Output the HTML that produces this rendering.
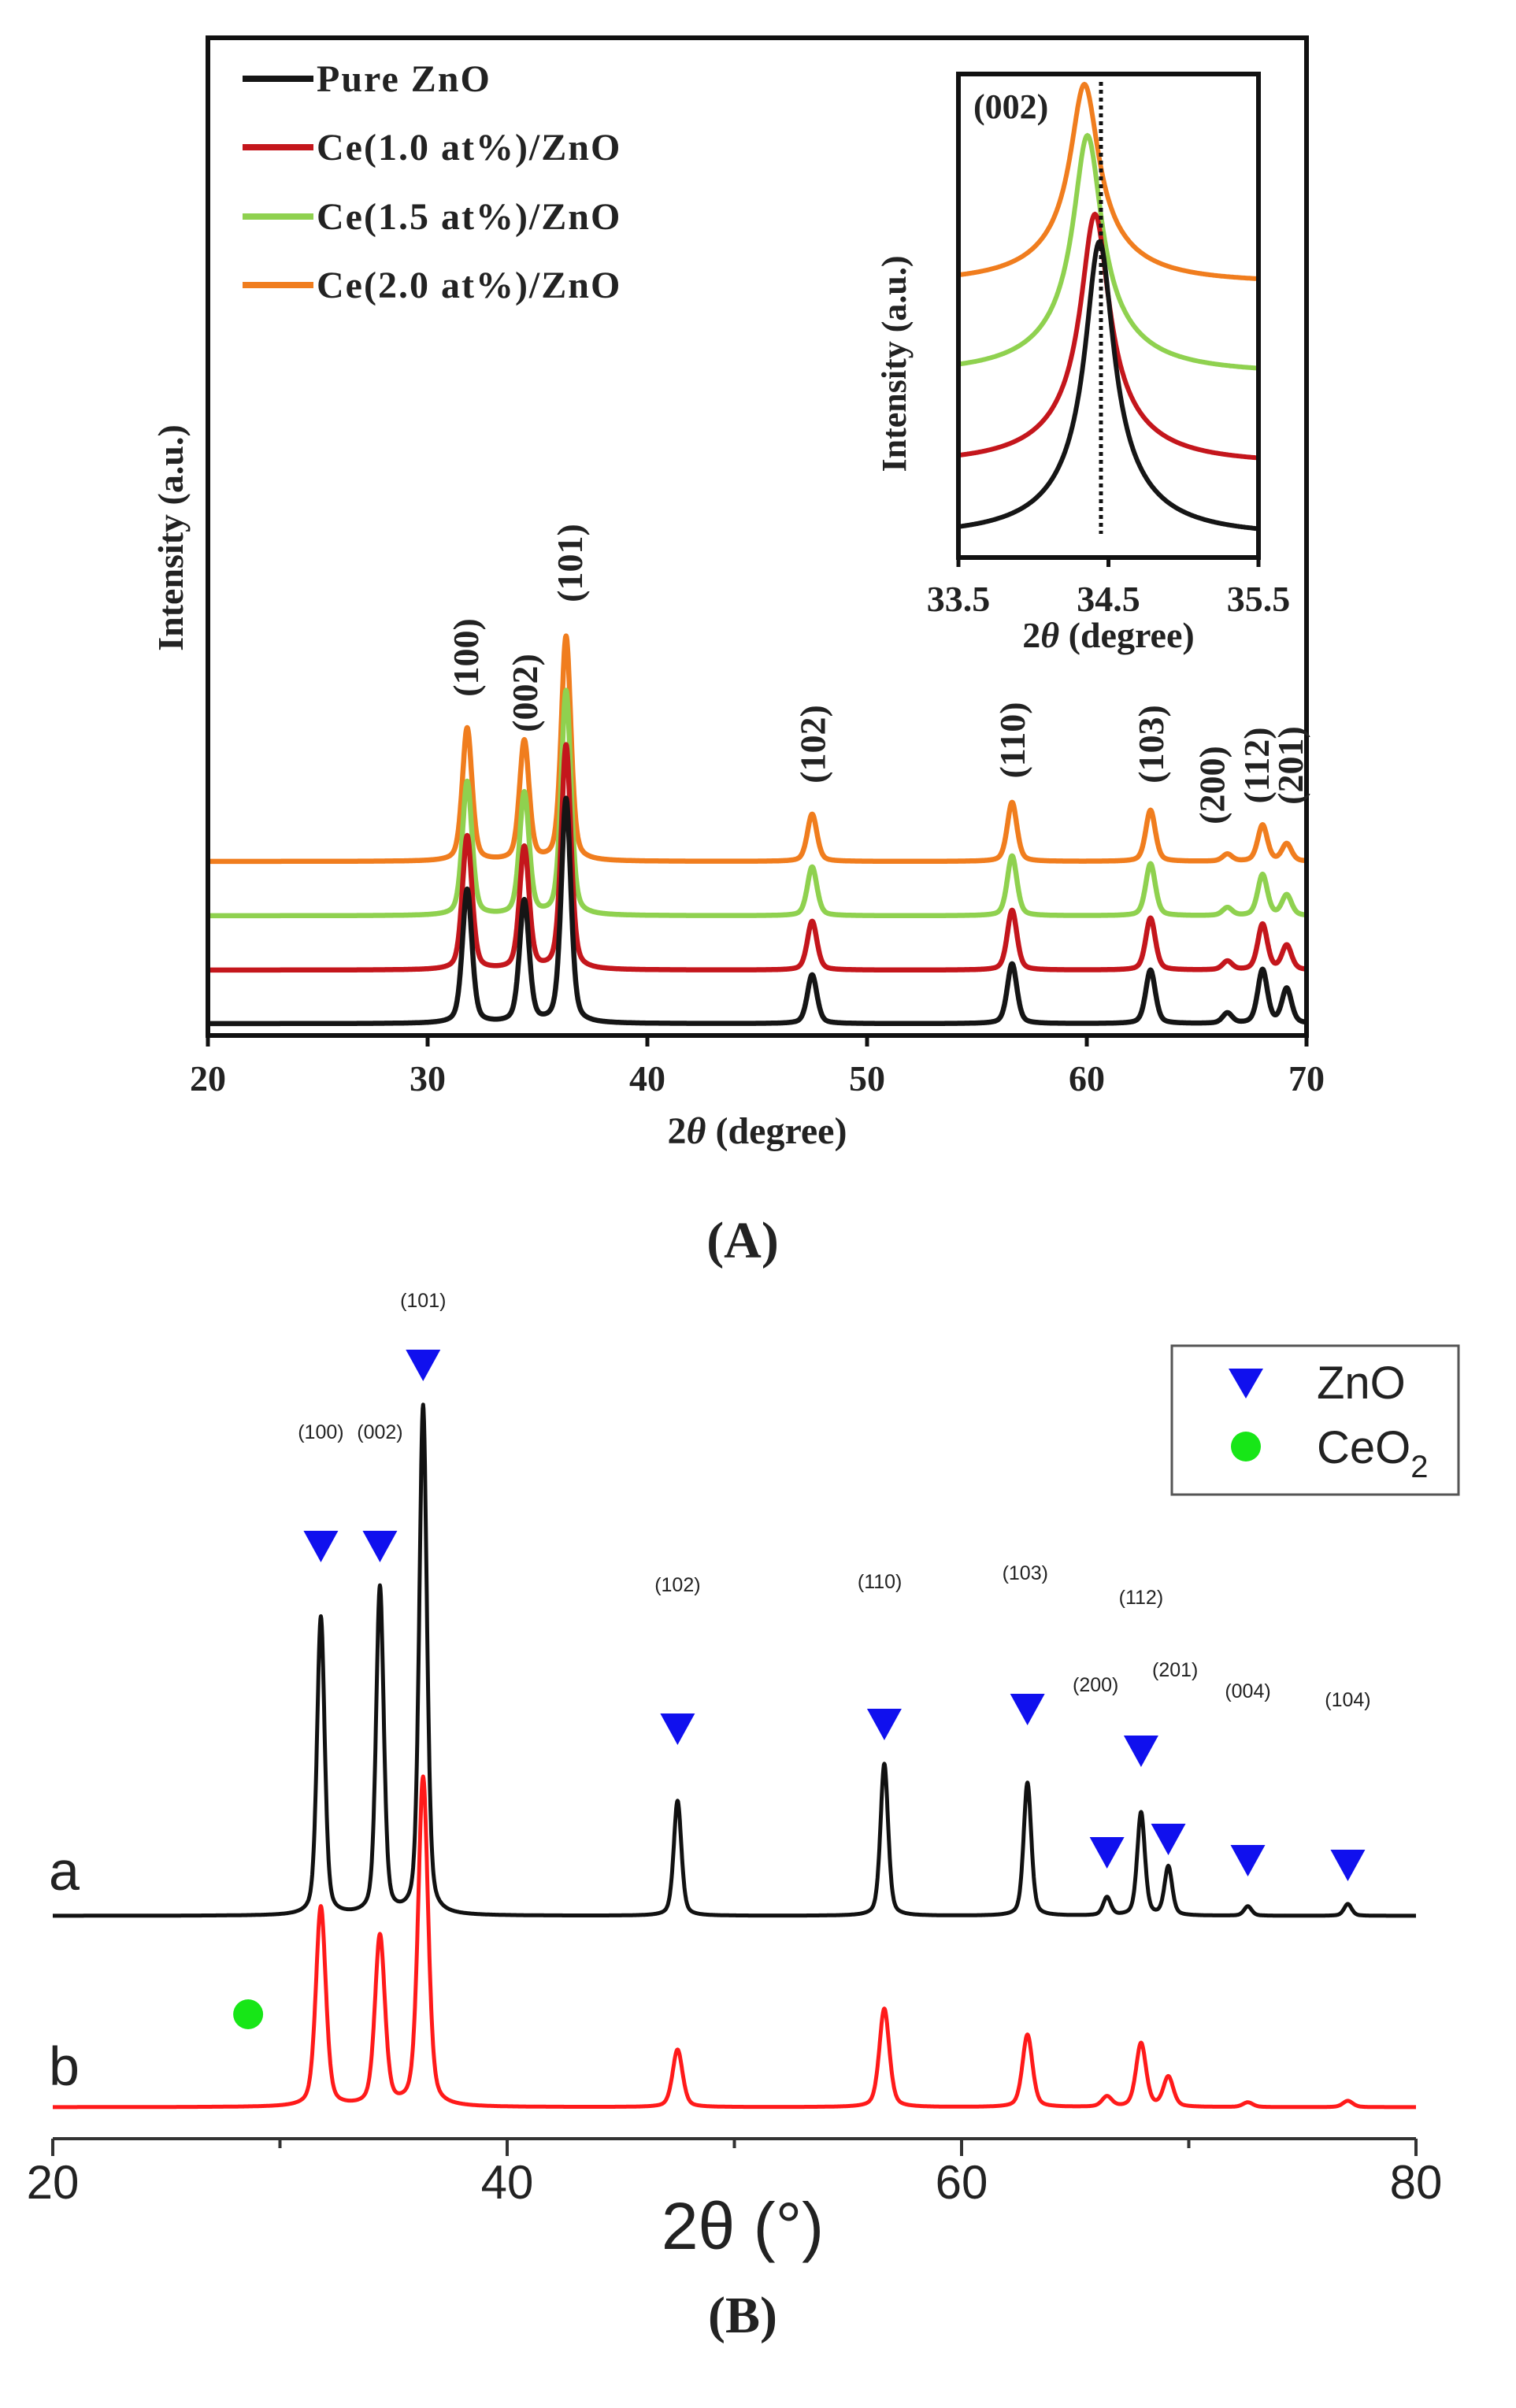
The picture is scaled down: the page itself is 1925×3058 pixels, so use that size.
<!DOCTYPE html>
<html><head><meta charset="utf-8"><style>
html,body{margin:0;padding:0;background:#fff;}
svg{display:block;}
.tA{font-family:"Liberation Serif",serif;font-weight:bold;fill:#222;}
.tB{font-family:"Liberation Sans",sans-serif;fill:#222;}
</style></head><body>
<svg id="fig" width="1925" height="3058" viewBox="0 0 1925 3058" xmlns="http://www.w3.org/2000/svg">
<g id="panelA"></g>
<g id="inset"></g>
<g id="panelB"></g>
</svg>
<script>
// ---------- Panel A data ----------
const peaksA = [31.8, 34.4, 36.3, 47.5, 56.6, 62.9, 66.4, 68.0, 69.1];
const hklA = ["(100)","(002)","(101)","(102)","(110)","(103)","(200)","(112)","(201)"];
const seriesNamesA = ["Pure ZnO","Ce(1.0 at%)/ZnO","Ce(1.5 at%)/ZnO","Ce(2.0 at%)/ZnO"];
const offsetsA = [0, 68, 137, 206];
const heightsBlack  = [170, 155, 285, 62, 76, 68, 13, 68, 44];
const heightsRed    = [170, 155, 285, 62, 76, 66, 11, 58, 31];
const heightsGreen  = [170, 155, 285, 62, 76, 66, 10, 52, 26];
const heightsOrange = [169, 152, 285, 60, 75, 65, 9, 46, 22];
const xTicksA = [20, 30, 40, 50, 60, 70];
// ---------- Inset data ----------
const insetCenters = [34.44, 34.41, 34.36, 34.34];
const insetHeights = [375, 318, 303, 253];
const insetOffsets = [0, 92, 207, 322];
const xTicksInset = [33.5, 34.5, 35.5];
const dottedLineAt = 34.45;
// ---------- Panel B data ----------
const peaksB = [31.8, 34.4, 36.3, 47.5, 56.6, 62.9, 66.4, 67.9, 69.1, 72.6, 77.0];
const heightsA_B = [379, 416, 647, 146, 193, 169, 23, 131, 62, 12, 15];
const heightsB_B = [254, 216, 418, 73, 125, 92, 13, 81, 38, 6, 8];
const hklB = ["(100)","(002)","(101)","(102)","(110)","(103)","(200)","(112)","(201)","(004)","(104)"];
const triY = [1963, 1963, 1733, 2195, 2189, 2170, 2352, 2223, 2335, 2362, 2368];
const labY = [1827, 1827, 1660, 2021, 2017, 2006, 2148, 2037, 2129, 2156, 2167];
const labX = [31.8, 34.4, 36.3, 47.5, 56.4, 62.8, 65.9, 67.9, 69.4, 72.6, 77.0];
const xTicksB = [20, 40, 60, 80];
const xMinorB = [30, 50, 70];
const ceo2Peak = 28.6;

const NS = "http://www.w3.org/2000/svg";
function mk(parent, tag, attrs, text){
  const e = document.createElementNS(NS, tag);
  for (const k in attrs) e.setAttribute(k, attrs[k]);
  if (text !== undefined) e.textContent = text;
  parent.appendChild(e); return e;
}
function lor(x, c, h, w){ return h * w*w/((x-c)*(x-c)+w*w); }
function pv(x, c, h, w){ const g = Math.exp(-0.6931*(x-c)*(x-c)/(w*w)); return h*(0.6*g + 0.4*w*w/((x-c)*(x-c)+w*w)); }

// ---------- Panel A ----------
const gA = document.getElementById('panelA');
const A = {x0:264, x1:1659, y0:48, y1:1315};
const xA = v => A.x0 + (v-20)*(A.x1-A.x0)/50;
const baseA = 1300;
const colors = ["#151515","#c4161c","#8fd14f","#f07d1e"];
const heightSets = [heightsBlack, heightsRed, heightsGreen, heightsOrange];
for (let s = 3; s >= 0; s--) {
  let d = "";
  for (let v = 20; v <= 70.001; v += 0.02) {
    let y = 0;
    peaksA.forEach((p,i)=>{ y += pv(v, p, heightSets[s][i], 0.26); });
    d += (d ? "L" : "M") + xA(v).toFixed(1) + "," + (baseA - offsetsA[s] - y).toFixed(1);
  }
  const path = mk(gA, "path", {d:d, fill:"none", stroke:colors[s], "stroke-width":6.5, "stroke-linejoin":"round"});
  
  
}
const frameA = mk(gA, "rect", {x:A.x0, y:A.y0, width:A.x1-A.x0, height:A.y1-A.y0, fill:"none", stroke:"#111", "stroke-width":6});


xTicksA.forEach(t=>{
  mk(gA, "line", {x1:xA(t), x2:xA(t), y1:A.y1, y2:A.y1+14, stroke:"#111", "stroke-width":5});
  const tl = mk(gA, "text", {x:xA(t), y:1385, "text-anchor":"middle", "font-size":46, class:"tA"}, t);
  
  
});
const xtA = mk(gA, "text", {x:xA(45), y:1452, "text-anchor":"middle", "font-size":48, class:"tA"});


xtA.innerHTML = '2<tspan font-style="italic">θ</tspan> (degree)';
const ytA = mk(gA, "text", {x:0, y:0, transform:"translate(232,683) rotate(-90)", "text-anchor":"middle", "font-size":46, class:"tA"}, "Intensity (a.u.)");


const legY = [100, 187, 275, 362];
seriesNamesA.forEach((n,i)=>{
  const ln = mk(gA, "line", {x1:308, x2:398, y1:legY[i], y2:legY[i], stroke:colors[i], "stroke-width":8});
  
  
  const lt = mk(gA, "text", {x:402, y:legY[i]+16, "font-size":48, class:"tA", "letter-spacing":"2"}, n);
  
  
});
const labAY = [835, 880, 715, 945, 940, 945, 997, 972, 972];
const labAdx = [-2, 0, 4, 0, 0, 0, -20, -8, 4];
hklA.forEach((h,i)=>{
  const x = xA(peaksA[i]) + labAdx[i];
  const t = mk(gA, "text", {x:0, y:0, transform:`translate(${x+16},${labAY[i]}) rotate(-90)`, "text-anchor":"middle", "font-size":46, class:"tA"}, h);
  
  
});

// ---------- Inset ----------
const gI = document.getElementById('inset');
const I = {x0:1217, x1:1598, y0:94, y1:708};
const xI = v => I.x0 + (v-33.5)*(I.x1-I.x0)/2;
const baseI = 682;
for (let s = 3; s >= 0; s--) {
  let d = "";
  for (let v = 33.5; v <= 35.5001; v += 0.005) {
    const y = lor(v, insetCenters[s], insetHeights[s]*0.8, 0.11) + lor(v, insetCenters[s], insetHeights[s]*0.2, 0.35);
    d += (d ? "L" : "M") + xI(v).toFixed(1) + "," + (baseI - insetOffsets[s] - y).toFixed(1);
  }
  const p = mk(gI, "path", {d:d, fill:"none", stroke:colors[s], "stroke-width":6});
  
  
}
const dl = mk(gI, "line", {x1:xI(dottedLineAt), x2:xI(dottedLineAt), y1:I.y0+10, y2:I.y1-30, stroke:"#111", "stroke-width":5, "stroke-dasharray":"5,5"});


const frameI = mk(gI, "rect", {x:I.x0, y:I.y0, width:I.x1-I.x0, height:I.y1-I.y0, fill:"none", stroke:"#111", "stroke-width":6});


xTicksInset.forEach(t=>{
  mk(gI, "line", {x1:xI(t), x2:xI(t), y1:I.y1, y2:I.y1+12, stroke:"#111", "stroke-width":5});
  const tl = mk(gI, "text", {x:xI(t), y:776, "text-anchor":"middle", "font-size":46, class:"tA"}, t.toFixed(1));
  
  
});
const xtI = mk(gI, "text", {x:xI(34.5), y:822, "text-anchor":"middle", "font-size":46, class:"tA"});


xtI.innerHTML = '2<tspan font-style="italic">θ</tspan> (degree)';
const ytI = mk(gI, "text", {x:0, y:0, transform:"translate(1150,462) rotate(-90)", "text-anchor":"middle", "font-size":44, class:"tA"}, "Intensity (a.u.)");


const il = mk(gI, "text", {x:1236, y:150, "font-size":44, class:"tA"}, "(002)");



const capA = mk(gA, "text", {x:943, y:1597, "text-anchor":"middle", "font-size":66, class:"tA", fill:"#000"}, "(A)");



// ---------- Panel B ----------
const gB = document.getElementById('panelB');
const xB = v => 67 + (v-20)*(1798-67)/60;
const axisYB = 2716;
const baseB = [2433, 2676];
const colB = ["#111", "#ff1a1a"];
[heightsA_B, heightsB_B].forEach((hs, s)=>{
  let d = "";
  for (let v = 20; v <= 80.001; v += 0.02) {
    let y = 0;
    peaksB.forEach((p,i)=>{ y += pv(v, p, hs[i], s===0 ? 0.2 : 0.26); });
    d += (d ? "L" : "M") + xB(v).toFixed(1) + "," + (baseB[s] - y).toFixed(1);
  }
  const p = mk(gB, "path", {d:d, fill:"none", stroke:colB[s], "stroke-width":5, "stroke-linejoin":"round"});
  
  
});
const axB = mk(gB, "line", {x1:xB(20), x2:xB(80), y1:axisYB, y2:axisYB, stroke:"#333", "stroke-width":4});


xTicksB.forEach(t=>{
  mk(gB, "line", {x1:xB(t), x2:xB(t), y1:axisYB, y2:axisYB+22, stroke:"#333", "stroke-width":4});
  const tl = mk(gB, "text", {x:xB(t), y:2792, "text-anchor":"middle", "font-size":60, class:"tB"}, t);
  
  
});
xMinorB.forEach(t=>{ mk(gB, "line", {x1:xB(t), x2:xB(t), y1:axisYB, y2:axisYB+12, stroke:"#333", "stroke-width":4}); });
const xtB = mk(gB, "text", {x:943, y:2856, "text-anchor":"middle", "font-size":84, class:"tB"}, "2θ (°)");


peaksB.forEach((p,i)=>{
  const x = xB(p), y = triY[i];
  const tr = mk(gB, "polygon", {points:`${x-22},${y-19} ${x+22},${y-19} ${x},${y+21}`, fill:"#1010ee"});
  
  
  const lb = mk(gB, "text", {x:xB(labX[i]), y:labY[i], "text-anchor":"middle", "font-size":25, class:"tB"}, hklB[i]);
  
  
});
const ce = mk(gB, "circle", {cx:xB(ceo2Peak), cy:2558, r:19, fill:"#17e617"});


const la = mk(gB, "text", {x:62, y:2400, "font-size":70, class:"tB", fill:"#111"}, "a");


const lbb = mk(gB, "text", {x:62, y:2648, "font-size":70, class:"tB", fill:"#ff1a1a"}, "b");


const lg = mk(gB, "rect", {x:1488, y:1709, width:364, height:189, fill:"#fff", stroke:"#555", "stroke-width":3});


mk(gB, "polygon", {points:"1560,1738 1604,1738 1582,1776", fill:"#1010ee"});
const lz = mk(gB, "text", {x:1672, y:1776, "font-size":58, class:"tB"}, "ZnO");


mk(gB, "circle", {cx:1582, cy:1837, r:19, fill:"#17e617"});
const lc = mk(gB, "text", {x:1672, y:1858, "font-size":58, class:"tB"});


lc.innerHTML = 'CeO<tspan font-size="40" dy="18">2</tspan>';
const capB = mk(gB, "text", {x:943, y:2962, "text-anchor":"middle", "font-size":66, class:"tA", fill:"#000"}, "(B)");


</script>
</body></html>
